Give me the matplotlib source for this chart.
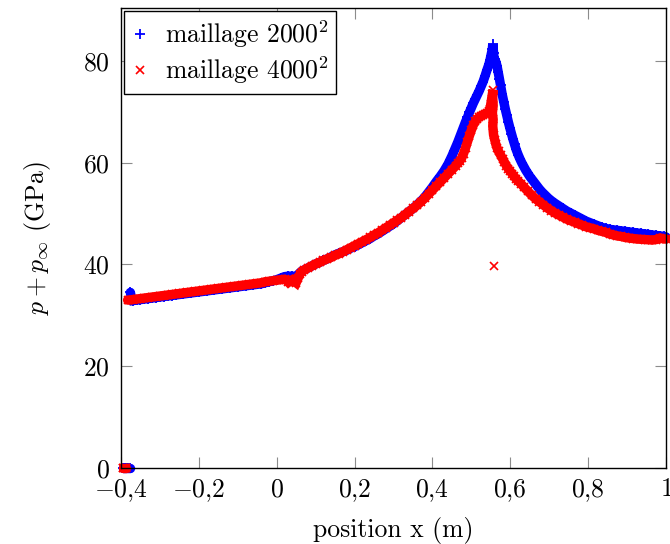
import matplotlib
matplotlib.use('Agg')
import matplotlib.pyplot as plt
from matplotlib.ticker import FixedLocator, FuncFormatter

# --- data (x in m, p + p_inf in GPa) ---

# maillage 2000^2 : points sitting on the wall at p = 0
x_2000_wall = [-0.396, -0.393, -0.390, -0.387, -0.384, -0.381, -0.378]
y_2000_wall = [0, 0, 0, 0, 0, 0, 0]

# maillage 2000^2 : main profile
x_2000 = [
    -0.376, -0.373, -0.37, -0.36, -0.35, -0.34, -0.33, -0.32, -0.31, -0.30,
    -0.29, -0.28, -0.27, -0.26, -0.25, -0.24, -0.23, -0.22, -0.21, -0.20,
    -0.19, -0.18, -0.17, -0.16, -0.15, -0.14, -0.13, -0.12, -0.11, -0.10,
    -0.09, -0.08, -0.07, -0.06, -0.05, -0.04, -0.03, -0.02, -0.01, 0.0,
    0.01, 0.02, 0.03, 0.04, 0.05, 0.055, 0.06, 0.065, 0.07, 0.08,
    0.09, 0.10, 0.11, 0.12, 0.13, 0.14, 0.15, 0.16, 0.17, 0.18,
    0.19, 0.20, 0.21, 0.22, 0.23, 0.24, 0.25, 0.26, 0.27, 0.28,
    0.29, 0.30, 0.31, 0.32, 0.33, 0.34, 0.35, 0.36, 0.37, 0.38,
    0.39, 0.40, 0.41, 0.42, 0.43, 0.44, 0.445, 0.45, 0.455, 0.46,
    0.465, 0.47, 0.475, 0.48, 0.485, 0.49, 0.495, 0.50, 0.505, 0.51,
    0.515, 0.52, 0.525, 0.53, 0.535, 0.54, 0.545, 0.548, 0.55, 0.552,
    0.554, 0.555, 0.556, 0.557, 0.558, 0.56, 0.563, 0.566, 0.569, 0.572,
    0.575, 0.579, 0.583, 0.587, 0.591, 0.595, 0.599, 0.603, 0.607, 0.611,
    0.615, 0.62, 0.625, 0.63, 0.635, 0.64, 0.645, 0.65, 0.655, 0.661,
    0.668, 0.675, 0.682, 0.69, 0.698, 0.706, 0.715, 0.725, 0.735, 0.745,
    0.755, 0.765, 0.775, 0.785, 0.795, 0.805, 0.815, 0.825, 0.835, 0.845,
    0.855, 0.865, 0.875, 0.885, 0.895, 0.905, 0.915, 0.925, 0.935, 0.945,
    0.955, 0.965, 0.975, 0.985, 0.995, 1.0,
]
y_2000 = [
    34.5, 33.4, 32.9, 33.0, 33.1, 33.2, 33.3, 33.4, 33.5, 33.6,
    33.7, 33.8, 33.9, 34.0, 34.1, 34.2, 34.3, 34.4, 34.5, 34.6,
    34.7, 34.8, 34.9, 35.0, 35.1, 35.2, 35.3, 35.4, 35.5, 35.6,
    35.7, 35.8, 35.9, 36.0, 36.1, 36.2, 36.4, 36.6, 36.8, 37.0,
    37.3, 37.6, 37.7, 37.7, 37.6, 38.0, 38.4, 38.7, 38.9, 39.3,
    39.7, 40.1, 40.4, 40.8, 41.1, 41.5, 41.9, 42.2, 42.5, 42.8,
    43.2, 43.5, 43.9, 44.3, 44.7, 45.1, 45.6, 46.0, 46.5, 47.0,
    47.5, 48.0, 48.6, 49.2, 49.8, 50.4, 51.0, 51.7, 52.4, 53.2,
    54.2, 55.2, 56.3, 57.3, 58.4, 59.7, 60.5, 61.3, 62.2, 63.1,
    64.0, 65.0, 66.0, 67.0, 68.0, 68.9, 69.9, 70.8, 71.7, 72.5,
    73.3, 74.1, 75.0, 75.9, 77.0, 78.2, 79.3, 80.2, 80.9, 81.6,
    82.4, 83.3, 82.5, 81.5, 80.8, 80.3, 79.8, 79.0, 77.8, 76.5,
    75.2, 73.5, 72.0, 70.6, 69.3, 68.0, 66.8, 65.7, 64.6, 63.6,
    62.6, 61.6, 60.7, 59.9, 59.2, 58.5, 57.9, 57.3, 56.8, 56.2,
    55.5, 54.8, 54.2, 53.6, 53.0, 52.5, 52.0, 51.5, 51.0, 50.5,
    50.1, 49.7, 49.3, 48.9, 48.5, 48.2, 47.9, 47.6, 47.3, 47.1,
    46.9, 46.8, 46.7, 46.6, 46.5, 46.4, 46.3, 46.2, 46.1, 46.0,
    45.9, 45.8, 45.7, 45.6, 45.5, 45.4,
]

# maillage 4000^2 : points on the wall
x_4000_wall = [-0.396, -0.394, -0.392, -0.390, -0.388, -0.386]
y_4000_wall = [0, 0, 0, 0, 0, 0]

# maillage 4000^2 : main profile (incl. the scattered points at the shock)
x_4000 = [
    -0.383, -0.38, -0.37, -0.36, -0.35, -0.34, -0.33, -0.32, -0.31, -0.30,
    -0.29, -0.28, -0.27, -0.26, -0.25, -0.24, -0.23, -0.22, -0.21, -0.20,
    -0.19, -0.18, -0.17, -0.16, -0.15, -0.14, -0.13, -0.12, -0.11, -0.10,
    -0.09, -0.08, -0.07, -0.06, -0.05, -0.04, -0.03, -0.02, -0.01, 0.0,
    0.01, 0.02, 0.025, 0.03, 0.035, 0.04, 0.045, 0.05, 0.055, 0.06,
    0.065, 0.07, 0.08, 0.09, 0.10, 0.11, 0.12, 0.13, 0.14, 0.15,
    0.16, 0.17, 0.18, 0.19, 0.20, 0.21, 0.22, 0.23, 0.24, 0.25,
    0.26, 0.27, 0.28, 0.29, 0.30, 0.31, 0.32, 0.33, 0.34, 0.35,
    0.36, 0.37, 0.38, 0.39, 0.40, 0.41, 0.42, 0.43, 0.44, 0.45,
    0.46, 0.465, 0.47, 0.475, 0.48, 0.485, 0.49, 0.495, 0.50, 0.505,
    0.51, 0.515, 0.52, 0.525, 0.53, 0.535, 0.54, 0.545, 0.548, 0.55,
    0.552, 0.554, 0.556, 0.555, 0.556, 0.554, 0.556, 0.555, 0.557, 0.56,
    0.563, 0.566, 0.57, 0.575, 0.58, 0.585, 0.59, 0.595, 0.60, 0.605,
    0.61, 0.615, 0.62, 0.627, 0.635, 0.645, 0.655, 0.665, 0.675, 0.685,
    0.695, 0.705, 0.715, 0.725, 0.735, 0.745, 0.755, 0.765, 0.775, 0.785,
    0.795, 0.805, 0.815, 0.825, 0.835, 0.845, 0.855, 0.865, 0.875, 0.885,
    0.895, 0.905, 0.915, 0.925, 0.935, 0.945, 0.955, 0.965, 0.975, 0.985,
    0.995, 1.0,
]
y_4000 = [
    33.0, 33.0, 33.1, 33.2, 33.3, 33.4, 33.5, 33.6, 33.7, 33.8,
    33.9, 34.0, 34.1, 34.2, 34.3, 34.4, 34.5, 34.6, 34.7, 34.8,
    34.9, 35.0, 35.1, 35.2, 35.3, 35.4, 35.5, 35.6, 35.7, 35.8,
    35.9, 36.0, 36.1, 36.2, 36.3, 36.4, 36.6, 36.7, 36.8, 36.9,
    37.0, 37.1, 36.9, 36.5, 36.8, 37.0, 36.7, 36.4, 37.3, 38.2,
    38.6, 38.9, 39.3, 39.7, 40.1, 40.4, 40.8, 41.1, 41.4, 41.8,
    42.1, 42.5, 42.9, 43.3, 43.7, 44.1, 44.5, 44.9, 45.3, 45.8,
    46.2, 46.7, 47.2, 47.7, 48.2, 48.7, 49.2, 49.8, 50.4, 51.0,
    51.6, 52.3, 53.0, 53.8, 54.6, 55.4, 56.2, 57.0, 57.8, 58.6,
    59.4, 59.9, 60.3, 60.9, 61.8, 62.9, 64.1, 65.3, 66.4, 67.4,
    68.1, 68.6, 68.9, 69.2, 69.4, 69.6, 69.8, 70.1, 70.6, 71.5,
    72.5, 73.5, 74.3, 72.8, 71.2, 69.8, 68.5, 67.2, 65.5, 64.5,
    63.6, 62.9, 62.2, 61.5, 60.8, 60.1, 59.4, 58.8, 58.3, 57.8,
    57.3, 56.8, 56.4, 55.9, 55.2, 54.4, 53.6, 52.9, 52.3, 51.7,
    51.1, 50.6, 50.1, 49.7, 49.3, 48.9, 48.6, 48.3, 48.0, 47.7,
    47.4, 47.2, 47.0, 46.7, 46.5, 46.3, 46.0, 45.8, 45.6, 45.5,
    45.3, 45.2, 45.1, 45.0, 44.95, 44.9, 44.85, 44.8, 44.9, 45.2,
    45.0, 45.0,
]

# maillage 4000^2 : isolated point below the shock
x_4000_stray = [0.557]
y_4000_stray = [39.6]

x_ticks = [-0.4, -0.2, 0, 0.2, 0.4, 0.6, 0.8, 1]
y_ticks = [0, 20, 40, 60, 80]

FS = 18.5


def fr_label(v, pos=None):
    # comma as decimal separator, as in the original figure
    if abs(v - round(v)) < 1e-9:
        s = f'{int(round(v))}'
    else:
        s = f'{v:.1f}'.replace('.', '{,}')
    return '$' + s + '$'


def main():
    plt.rcParams['font.family'] = 'serif'
    plt.rcParams['font.serif'] = ['cmr10']
    plt.rcParams['mathtext.fontset'] = 'cm'
    plt.rcParams['axes.formatter.use_mathtext'] = True
    plt.rcParams['font.size'] = FS

    fig = plt.figure(figsize=(6.7, 5.44), dpi=100)
    ax = fig.add_axes([121 / 670, 1 - 468 / 544, 545 / 670, 460 / 544])

    # the points are so dense that they merge into a solid band:
    # thick band underneath, markers on top
    band = dict(lw=6.8, solid_capstyle='round', solid_joinstyle='miter',
                clip_on=False)
    ax.plot(x_2000, y_2000, color='blue', zorder=2, **band)
    ax.plot(x_2000_wall, y_2000_wall, color='blue', zorder=2, **band)
    ax.plot(x_2000 + x_2000_wall, y_2000 + y_2000_wall, ls='none', marker='+',
            ms=7.5, mew=1.3, color='blue', clip_on=False, zorder=3,
            label=r'maillage $2000^2$')

    ax.plot(x_4000, y_4000, color='red', zorder=4, **band)
    ax.plot(x_4000_wall, y_4000_wall, color='red', zorder=4, **band)
    ax.plot(x_4000 + x_4000_wall + x_4000_stray, y_4000 + y_4000_wall + y_4000_stray,
            ls='none', marker='x', ms=6, mew=1.2, color='red', clip_on=False,
            zorder=5, label=r'maillage $4000^2$')

    ax.set_xlim(-0.4, 1.0)
    ax.set_ylim(0, 90.4)
    ax.xaxis.set_major_locator(FixedLocator(x_ticks))
    ax.yaxis.set_major_locator(FixedLocator(y_ticks))
    ax.xaxis.set_major_formatter(FuncFormatter(fr_label))
    ax.yaxis.set_major_formatter(FuncFormatter(fr_label))
    ax.tick_params(direction='in', length=8, width=0.8, color='0.55',
                   top=True, right=True, labelsize=FS)
    ax.tick_params(axis='x', pad=7)
    ax.tick_params(axis='y', pad=8)
    for sp in ax.spines.values():
        sp.set_linewidth(1.0)
        sp.set_zorder(6)

    ax.set_xlabel('position x (m)', fontsize=FS, labelpad=9)
    ax.set_ylabel(r'$p + p_\infty$ (GPa)', fontsize=FS, labelpad=22)

    leg = ax.legend(loc='upper left', bbox_to_anchor=(0.0, 1.0), borderaxespad=0.1,
                    numpoints=1, fancybox=False, framealpha=1, edgecolor='black',
                    handlelength=0.7, handletextpad=0.6, borderpad=0.3,
                    labelspacing=0.2, fontsize=FS)
    leg.get_frame().set_linewidth(1.0)
    leg.set_zorder(10)

    fig.savefig('out.png', dpi=100)


if __name__ == '__main__':
    main()
